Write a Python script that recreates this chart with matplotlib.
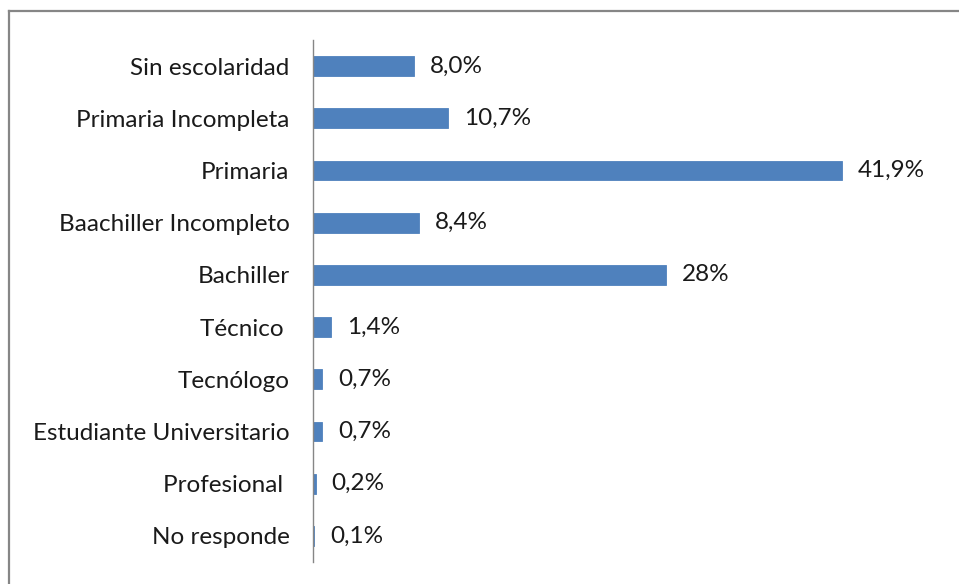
import matplotlib.pyplot as plt
from matplotlib.lines import Line2D

# datos
categorias = ['Sin escolaridad', 'Primaria Incompleta', 'Primaria',
              'Baachiller Incompleto', 'Bachiller', 'Técnico ',
              'Tecnólogo', 'Estudiante Universitario', 'Profesional ',
              'No responde']
valores = [8.0, 10.7, 41.9, 8.4, 28.0, 1.4, 0.7, 0.7, 0.2, 0.1]
etiquetas = ['8,0%', '10,7%', '41,9%', '8,4%', '28%', '1,4%', '0,7%',
             '0,7%', '0,2%', '0,1%']

plt.rcParams['font.family'] = ['Lato', 'DejaVu Sans']

fig = plt.figure(figsize=(9.59, 5.84), dpi=100)
ax = fig.add_axes([313/959, 1-562/584, (944-313)/959, (562-40)/584])

pos = list(range(len(categorias)))
ax.barh(pos, valores, height=0.38, color='#4F81BD', edgecolor='#4F81BD', linewidth=0.6)
for i, v in enumerate(valores):
    ax.annotate(etiquetas[i], (v, i), xytext=(11.5, 0), textcoords='offset points',
                va='center', ha='left', fontsize=17.5, color='#1a1a1a')

ax.set_yticks(pos)
ax.set_yticklabels(categorias, fontsize=17.5, color='#1a1a1a')
ax.set_ylim(len(categorias)-0.5, -0.5)
ax.set_xlim(0, 50)
ax.tick_params(axis='y', length=0, pad=17)
ax.set_xticks([])
for s in ['top', 'right', 'bottom']:
    ax.spines[s].set_visible(False)
ax.spines['left'].set_color('#868686')
ax.spines['left'].set_linewidth(1)

# marco del gráfico (solo borde superior e izquierdo visibles)
y_top = 1 - 11/584
x_izq = 9/959
fig.add_artist(Line2D([x_izq, 1.0], [y_top, y_top], transform=fig.transFigure,
                      color='#868686', linewidth=1.6))
fig.add_artist(Line2D([x_izq, x_izq], [0.0, y_top], transform=fig.transFigure,
                      color='#868686', linewidth=1.6))

fig.savefig('out.png', dpi=100)
